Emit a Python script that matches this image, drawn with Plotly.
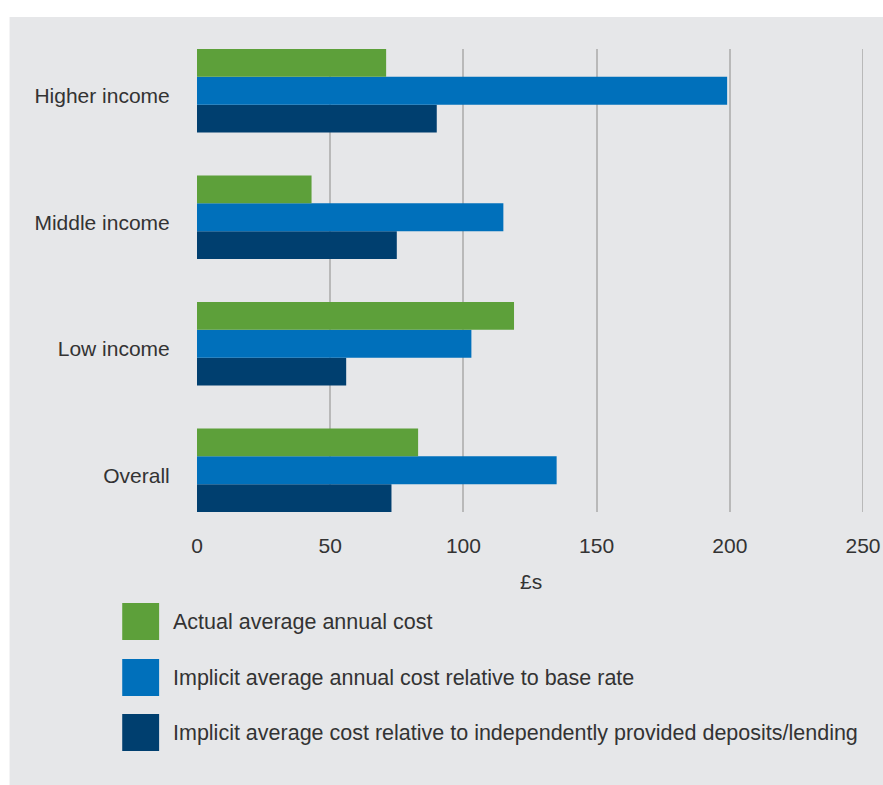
import plotly.graph_objects as go

categories = ["Higher income", "Middle income", "Low income", "Overall"]
actual = [71, 43, 119, 83]
implicit_base = [199, 115, 103, 135]
implicit_indep = [90, 75, 56, 73]
series_names = [
    "Actual average annual cost",
    "Implicit average annual cost relative to base rate",
    "Implicit average cost relative to independently provided deposits/lending",
]
colors = ["#5da03a", "#0070bb", "#003f6f"]
x_ticks = [0, 50, 100, 150, 200, 250]

W, H = 893, 785
L, R, T, B = 197, 865, 49, 512  # plot area in pixels
RM = W - R


def px(x):
    return (x - L) / (R - L)


def py(y):
    return (B - y) / (B - T)


FONT = "Liberation Sans"
TXT = "#333333"
FS = 21
BG = "#e6e7e9"
GRID = "#b9b9b9"

fig = go.Figure()
values = [actual, implicit_base, implicit_indep]
for name, vals, col in list(zip(series_names, values, colors))[::-1]:
    fig.add_trace(go.Bar(
        y=categories, x=vals, name=name, orientation="h",
        marker=dict(color=col, line=dict(width=0)),
        showlegend=False,
    ))

shapes = [dict(type="rect", xref="paper", yref="paper",
               x0=px(9), x1=px(W + 5), y0=py(H + 5), y1=py(17),
               fillcolor=BG, line=dict(width=0), layer="below"),
          # gridline at the right end of the range (plotly omits it at the edge)
          dict(type="line", xref="x", yref="paper", x0=x_ticks[-1], x1=x_ticks[-1],
               y0=0, y1=1, line=dict(color=GRID, width=2), layer="below")]
annotations = []
leg_tops = [603, 659, 714]
for name, col, top in zip(series_names, colors, leg_tops):
    shapes.append(dict(type="rect", xref="paper", yref="paper",
                       x0=px(122), x1=px(159), y0=py(top + 37), y1=py(top),
                       fillcolor=col, line=dict(width=0)))
    annotations.append(dict(xref="paper", yref="paper", x=px(171), y=py(top + 18.5),
                            xanchor="left", yanchor="middle", showarrow=False,
                            text=name, font=dict(family=FONT, size=21.5, color=TXT)))
annotations.append(dict(xref="paper", yref="paper", x=px(532), y=py(581),
                        xanchor="center", yanchor="middle", showarrow=False,
                        text="£s", font=dict(family=FONT, size=FS, color=TXT)))

fig.update_layout(
    width=W, height=H, autosize=False,
    margin=dict(l=L, r=RM, t=T, b=H - B, pad=0),
    paper_bgcolor="white", plot_bgcolor="rgba(0,0,0,0)",
    barmode="group", bargap=0.34, bargroupgap=0,
    shapes=shapes, annotations=annotations,
    font=dict(family=FONT, size=FS, color=TXT),
    xaxis=dict(range=[0, 250], tickvals=x_ticks, showgrid=True,
               gridcolor=GRID, gridwidth=2, zeroline=False,
               ticks="outside", ticklen=15, tickcolor="rgba(0,0,0,0)",
               tickfont=dict(family=FONT, size=FS, color=TXT), fixedrange=True),
    yaxis=dict(categoryorder="array", categoryarray=categories[::-1],
               range=[-0.33, 3.33], showgrid=False, zeroline=False,
               ticks="outside", ticklen=22, tickcolor="rgba(0,0,0,0)",
               ticklabelshift=5,
               tickfont=dict(family=FONT, size=FS, color=TXT), fixedrange=True),
)

fig.write_html("out.html")
